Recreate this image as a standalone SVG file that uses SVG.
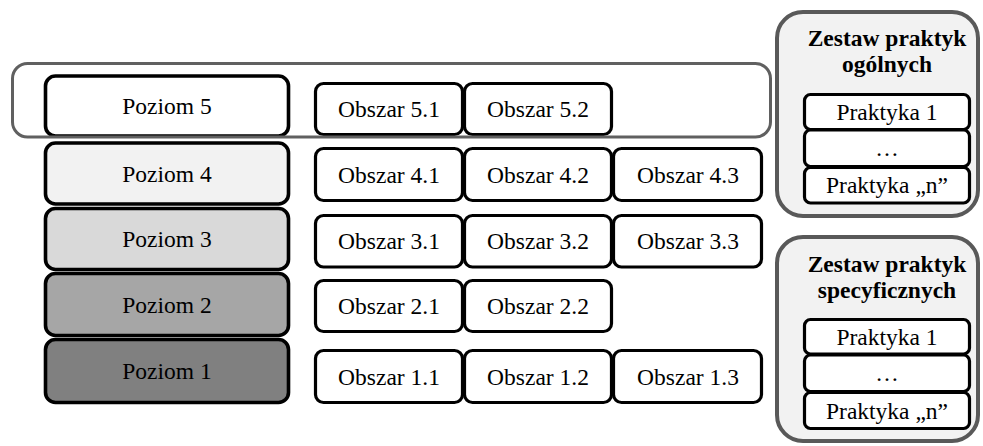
<svg xmlns="http://www.w3.org/2000/svg" width="983" height="446" viewBox="0 0 983 446">
  <style>
    text { font-family: "Liberation Serif", "Times New Roman", Times, serif; font-size: 23.5px; fill: #000; text-anchor: middle; }
    .title { font-weight: bold; }
    .lvl { stroke: #000; stroke-width: 3.6; }
    .area { fill: #fff; stroke: #000; stroke-width: 3.2; }
    .set { fill: #f2f2f2; stroke: #595959; stroke-width: 4; }
    .frame { fill: none; stroke: #606060; stroke-width: 3; }
  </style>

  <!-- maturity levels -->
  <g id="poziom5"><rect class="lvl" x="45.5" y="76" width="243" height="60" rx="10" fill="#ffffff"/><text x="167" y="114">Poziom 5</text></g>
  <g id="poziom4"><rect class="lvl" x="45.5" y="143" width="243" height="61" rx="10" fill="#f2f2f2"/><text x="167" y="181.5">Poziom 4</text></g>
  <g id="poziom3"><rect class="lvl" x="45.5" y="208.5" width="243" height="61" rx="10" fill="#d9d9d9"/><text x="167" y="247">Poziom 3</text></g>
  <g id="poziom2"><rect class="lvl" x="45.5" y="273.5" width="243" height="62" rx="10" fill="#a6a6a6"/><text x="167" y="312.5">Poziom 2</text></g>
  <g id="poziom1"><rect class="lvl" x="45.5" y="339.5" width="243" height="63" rx="10" fill="#808080"/><text x="167" y="379">Poziom 1</text></g>

  <!-- process areas, level 5 -->
  <g id="obszar51"><rect class="area" x="315.5" y="83.5" width="147" height="51" rx="8"/><text x="389" y="117">Obszar 5.1</text></g>
  <g id="obszar52"><rect class="area" x="464.5" y="83.5" width="147" height="51" rx="8"/><text x="538" y="117">Obszar 5.2</text></g>
  <!-- level 4 -->
  <g id="obszar41"><rect class="area" x="315.5" y="148.5" width="147" height="52" rx="8"/><text x="389" y="182.5">Obszar 4.1</text></g>
  <g id="obszar42"><rect class="area" x="464.5" y="148.5" width="147" height="52" rx="8"/><text x="538" y="182.5">Obszar 4.2</text></g>
  <g id="obszar43"><rect class="area" x="613.5" y="148.5" width="148" height="52" rx="8"/><text x="688" y="182.5">Obszar 4.3</text></g>
  <!-- level 3 -->
  <g id="obszar31"><rect class="area" x="315.5" y="215.5" width="147" height="51.5" rx="8"/><text x="389" y="249">Obszar 3.1</text></g>
  <g id="obszar32"><rect class="area" x="464.5" y="215.5" width="147" height="51.5" rx="8"/><text x="538" y="249">Obszar 3.2</text></g>
  <g id="obszar33"><rect class="area" x="613.5" y="215.5" width="148" height="51.5" rx="8"/><text x="688" y="249">Obszar 3.3</text></g>
  <!-- level 2 -->
  <g id="obszar21"><rect class="area" x="315.5" y="280.5" width="147" height="51" rx="8"/><text x="389" y="314">Obszar 2.1</text></g>
  <g id="obszar22"><rect class="area" x="464.5" y="280.5" width="147" height="51" rx="8"/><text x="538" y="314">Obszar 2.2</text></g>
  <!-- level 1 -->
  <g id="obszar11"><rect class="area" x="315.5" y="350.5" width="147" height="52" rx="8"/><text x="389" y="384.5">Obszar 1.1</text></g>
  <g id="obszar12"><rect class="area" x="464.5" y="350.5" width="147" height="52" rx="8"/><text x="538" y="384.5">Obszar 1.2</text></g>
  <g id="obszar13"><rect class="area" x="613.5" y="350.5" width="148" height="52" rx="8"/><text x="688" y="384.5">Obszar 1.3</text></g>

  <!-- frame grouping level 5 with its areas -->
  <g id="ramka5"><rect class="frame" x="12.5" y="63.5" width="758" height="73.5" rx="15"/></g>

  <!-- generic practices set -->
  <g id="praktyki-ogolne">
    <rect class="set" x="777" y="12" width="201" height="204" rx="26"/>
    <text class="title" x="887" y="46">Zestaw praktyk</text>
    <text class="title" x="887" y="72">ogólnych</text>
    <rect class="area" x="804.5" y="94.5" width="165" height="35" rx="6"/>
    <text x="887" y="120">Praktyka 1</text>
    <rect class="area" x="804.5" y="130" width="165" height="36.5" rx="6"/>
    <text x="887" y="156">…</text>
    <rect class="area" x="804.5" y="167.5" width="165" height="35.5" rx="6"/>
    <text x="887" y="193">Praktyka „n”</text>
  </g>

  <!-- specific practices set -->
  <g id="praktyki-specyficzne">
    <rect class="set" x="777" y="237" width="201" height="204" rx="26"/>
    <text class="title" x="887" y="272">Zestaw praktyk</text>
    <text class="title" x="887" y="298">specyficznych</text>
    <rect class="area" x="804.5" y="319.5" width="165" height="34.5" rx="6"/>
    <text x="887" y="344.5">Praktyka 1</text>
    <rect class="area" x="804.5" y="355" width="165" height="36.5" rx="6"/>
    <text x="887" y="381">…</text>
    <rect class="area" x="804.5" y="392.5" width="165" height="36" rx="6"/>
    <text x="887" y="418.5">Praktyka „n”</text>
  </g>
</svg>
